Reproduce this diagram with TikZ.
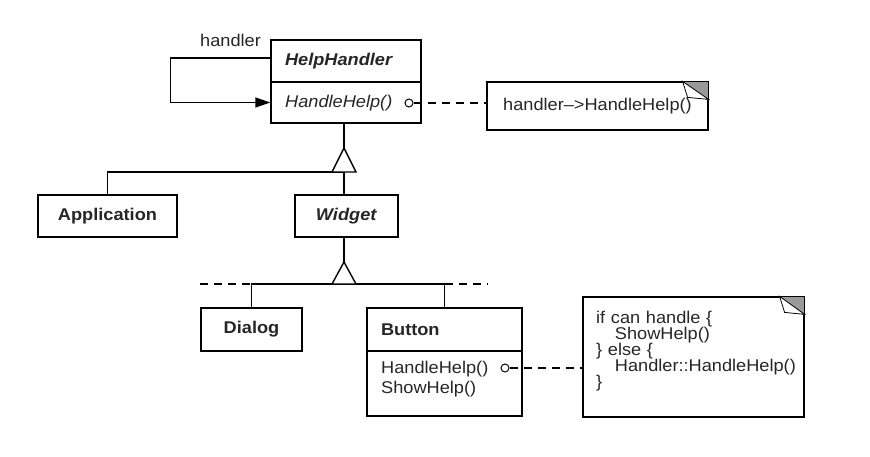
\documentclass[tikz,border=0pt]{standalone}
\usepackage{fontspec}
\setmainfont{Liberation Sans}[FakeStretch=1.07]
\usetikzlibrary{arrows.meta}

\begin{document}
\begin{tikzpicture}[x=1pt,y=-1pt]
        \tikzstyle{cls} = [draw, line width=1.4pt, inner sep=0pt, text=black!85, font=\fontsize{17}{20}\selectfont\bfseries]
        \tikzstyle{member} = [anchor=base west, inner sep=0pt, text=black!85, font=\fontsize{17}{20}\selectfont]
        \tikzstyle{memo} = [draw, line width=1.2pt, inner sep=0pt, text=black!85, font=\fontsize{17}{20}\selectfont]
        \tikzstyle{port} = [draw, circle, fill=white, line width=1pt, inner sep=0pt, minimum size=8pt]
        \tikzstyle{gen} = [line width=1.4pt]
        \tikzstyle{assoc} = [line width=1.2pt, dash pattern=on 8pt off 6pt]

        \useasboundingbox (0,0) rectangle (870,457);

        % classes
        \node[cls, minimum width=150pt, minimum height=42pt, text width=122pt, align=left] (hh) at (346,61) {\textit{HelpHandler}};
        \node[cls, minimum width=150pt, minimum height=41pt] (hhm) at (346,102.5) {};
        \node[member, font=\fontsize{17}{20}\selectfont\itshape] (hhmt) at (285,108) {HandleHelp()};
        \node[member] (lbl) at (200,47) {handler};

        \node[cls, minimum width=139pt, minimum height=42pt] (app) at (107.5,216) {Application};
        \node[cls, minimum width=103pt, minimum height=42pt] (wid) at (346.5,216) {\textit{Widget}};
        \node[cls, minimum width=101pt, minimum height=43pt] (dlg) at (251.5,329.5) {Dialog};
        \node[cls, minimum width=155pt, minimum height=43pt, text width=127pt, align=left] (btn) at (444.5,329.5) {Button};
        \node[cls, minimum width=155pt, minimum height=65pt] (btnm) at (444.5,383.5) {};
        \node[member] (btnh) at (381,373) {HandleHelp()};
        \node[member] (btns) at (381,393) {ShowHelp()};

        % notes
        \node[memo, minimum width=221pt, minimum height=48pt] (n1) at (597.5,106) {handler–>HandleHelp()};
        \node[memo, minimum width=221pt, minimum height=120pt] (n2) at (693.5,357) {};
        \node[member, text width=205pt, align=left, font=\fontsize{17}{16.2}\selectfont] (n2t) at (596,323) {if can handle \{\\ \hspace*{1.1em}ShowHelp()\\ \} else \{\\ \hspace*{1.1em}Handler::HandleHelp()\\ \}};

        \fill[gray!80] ([xshift=-26pt]n1.north east) -- (n1.north east) -- ([yshift=-18pt]n1.north east) -- cycle;
        \draw[line width=0.8pt, fill=white] ([xshift=-26pt]n1.north east) -- ([xshift=-21pt,yshift=-16pt]n1.north east) -- ([yshift=-18pt]n1.north east) -- cycle;
        \draw[line width=1.2pt] ([xshift=-26pt]n1.north east) -- (n1.north east) -- ([yshift=-18pt]n1.north east);
        \fill[gray!80] ([xshift=-25pt]n2.north east) -- (n2.north east) -- ([yshift=-18pt]n2.north east) -- cycle;
        \draw[line width=0.8pt, fill=white] ([xshift=-25pt]n2.north east) -- ([xshift=-20pt,yshift=-16pt]n2.north east) -- ([yshift=-18pt]n2.north east) -- cycle;
        \draw[line width=1.2pt] ([xshift=-25pt]n2.north east) -- (n2.north east) -- ([yshift=-18pt]n2.north east);

        % self reference
        \draw[gen, -{Triangle[length=15pt,width=10pt]}] ([yshift=3pt]hh.west) -- ++(-100,0) |- (hhm.west);

        % note links
        \node[port] (p1) at (409,103) {};
        \draw[assoc] (p1) -- (p1 -| n1.west);
        \node[port] (p2) at (505,368) {};
        \draw[assoc] (p2) -- (p2 -| n2.west);

        % inheritance
        \coordinate (t1) at (344,172);
        \coordinate (t2) at (344,284);
        \coordinate (dl) at (200,284);
        \coordinate (dr) at (488,284);

        \draw[gen] (hhm.south -| t1) -- ([yshift=24pt]t1);
        \draw[gen] (app.north) |- (t1) -- (t1 |- wid.north);
        \draw[gen, fill=white] ([xshift=-12pt]t1) -- ([yshift=24pt]t1) -- ([xshift=12pt]t1) -- cycle;

        \draw[gen] (wid.south -| t2) -- ([yshift=22pt]t2);
        \draw[gen] (dlg.north) |- (t2) -| (btn.north);
        \draw[gen, dash pattern=on 8pt off 6pt] (dl) -- (dlg.north |- dl);
        \draw[gen, dash pattern=on 8pt off 6pt] (btn.north |- dr) -- (dr);
        \draw[gen, fill=white] ([xshift=-12pt]t2) -- ([yshift=22pt]t2) -- ([xshift=12pt]t2) -- cycle;

\end{tikzpicture}
\end{document}
